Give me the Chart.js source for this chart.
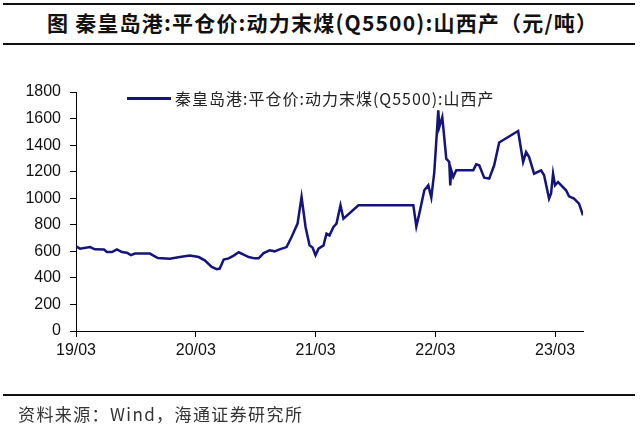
<!DOCTYPE html>
<html>
<head>
<meta charset="utf-8">
<script src="https://cdn.jsdelivr.net/npm/chart.js@4/dist/chart.umd.min.js"></script>
<style>
  body { margin: 0; background: #fff; }
  #wrap { position: relative; width: 640px; height: 428px; overflow: hidden; font-family: "Noto Sans CJK SC", "Liberation Sans", sans-serif; }
  #chart { position: absolute; left: 0; top: 0; }
  .rule { position: absolute; left: 3px; width: 632px; height: 2px; background: #111; }
  #title { position: absolute; left: 47px; top: 7px; font-size: 21px; font-weight: bold; color: #111; white-space: nowrap; letter-spacing: 1.2px; }
  #legend { position: absolute; left: 127px; top: 86px; white-space: nowrap; font-size: 16px; color: #222; letter-spacing: 1px; }
  #legend .swatch { display: inline-block; width: 44px; height: 3px; background: #14147a; vertical-align: middle; margin-right: 4px; position: relative; top: -2px; }
  #source { position: absolute; left: 18px; top: 401px; font-size: 17px; color: #333; white-space: nowrap; letter-spacing: 1.4px; }
</style>
</head>
<body>
<div id="wrap">
  <div class="rule" style="top:3px"></div>
  <div id="title"></div>
  <div class="rule" style="top:43px"></div>
  <canvas id="chart" width="640" height="428"></canvas>
  <div id="legend"><span class="swatch"></span><span id="legendText"></span></div>
  <div class="rule" style="top:394px"></div>
  <div id="source"></div>
</div>
<script>
// 标题和来源
var titleText = '图  秦皇岛港:平仓价:动力末煤(Q5500):山西产（元/吨）';
var sourceText = '资料来源：Wind，海通证券研究所';
var seriesName = '秦皇岛港:平仓价:动力末煤(Q5500):山西产';

// x = 距 2019/03 的月数
var months = [0.0, 0.4, 1.4, 1.9, 2.8, 3.1, 3.6, 4.1, 4.6, 5.1, 5.5, 5.9, 7.4, 8.2, 9.4, 10.4, 11.4,
  12.3, 12.9, 13.6, 14.1, 14.4, 14.8, 15.3, 15.8, 16.3, 16.8, 17.3, 17.9, 18.3, 18.8, 19.4, 19.9,
  20.4, 21.1, 21.6, 22.2, 22.6, 23.0, 23.4, 23.7, 24.0, 24.3, 24.8, 25.1, 25.4, 25.8, 26.1, 26.5,
  26.8, 28.3, 33.8, 34.1, 34.4, 34.9, 35.3, 35.6, 35.9, 36.3, 36.4, 36.7, 36.8, 37.1, 37.4, 37.5,
  37.6, 37.8, 38.1, 39.8, 40.1, 40.4, 40.9, 41.4, 41.9, 42.4, 44.3, 44.8, 45.1, 45.4, 45.9, 46.6,
  46.9, 47.4, 47.6, 47.8, 48.0, 48.3, 49.1, 49.4, 49.9, 50.4, 50.8];
var prices = [638, 620, 632, 615, 613, 595, 595, 615, 595, 590, 572, 583, 583, 550, 545, 557, 568,
  557, 532, 482, 465, 470, 538, 547, 568, 593, 575, 557, 547, 547, 587, 608, 600,
  615, 632, 708, 809, 1010, 783, 645, 628, 570, 620, 645, 733, 720, 783, 809, 947,
  846, 947, 947, 788, 884, 1060, 1097, 1005, 1197, 1662, 1536, 1611, 1536, 1298, 1273, 1097,
  1210, 1160, 1210, 1210, 1255, 1248, 1155, 1148, 1248, 1420, 1506, 1273, 1348, 1310, 1185, 1210,
  1173, 997, 1035, 1185, 1097, 1122, 1060, 1014, 997, 959, 871];

var xTickValues = [0, 12, 24, 36, 48];
var xTickLabels = ['19/03', '20/03', '21/03', '22/03', '23/03'];

document.getElementById('title').textContent = titleText;
document.getElementById('source').textContent = sourceText;
document.getElementById('legendText').textContent = seriesName;

var points = months.map(function (m, i) { return { x: m, y: prices[i] }; });

var ctx = document.getElementById('chart').getContext('2d');
var coalChart = new Chart(ctx, {
  type: 'line',
  data: {
    datasets: [{
      label: seriesName,
      data: points,
      borderColor: '#14147a',
      borderWidth: 2.5,
      pointRadius: 0,
      tension: 0,
      fill: false
    }]
  },
  options: {
    responsive: false,
    animation: false,
    layout: { padding: { left: 0, right: 57, top: 92, bottom: 67 } },
    plugins: { legend: { display: false }, tooltip: { enabled: false } },
    scales: {
      x: {
        type: 'linear',
        min: 0,
        max: 50.8,
        afterBuildTicks: function (scale) {
          scale.ticks = xTickValues.map(function (v) { return { value: v }; });
        },
        afterFit: function (scale) { scale.height = 30; },
        border: { color: '#000', width: 1 },
        grid: { drawOnChartArea: false, drawTicks: true, tickLength: 6, tickColor: '#000' },
        ticks: {
          color: '#111',
          padding: 4,
          maxRotation: 0,
          autoSkip: false,
          font: { family: 'Liberation Sans', size: 16 },
          callback: function (v) {
            var i = xTickValues.indexOf(v);
            return i >= 0 ? xTickLabels[i] : '';
          }
        }
      },
      y: {
        min: 0,
        max: 1800,
        afterFit: function (scale) { scale.width = 76; },
        border: { color: '#000', width: 1 },
        grid: { drawOnChartArea: false, drawTicks: true, tickLength: 6, tickColor: '#000' },
        ticks: {
          stepSize: 200,
          color: '#111',
          padding: 9,
          font: { family: 'Liberation Sans', size: 16 },
          callback: function (v) { return String(v); }
        }
      }
    }
  }
});
</script>
</body>
</html>
